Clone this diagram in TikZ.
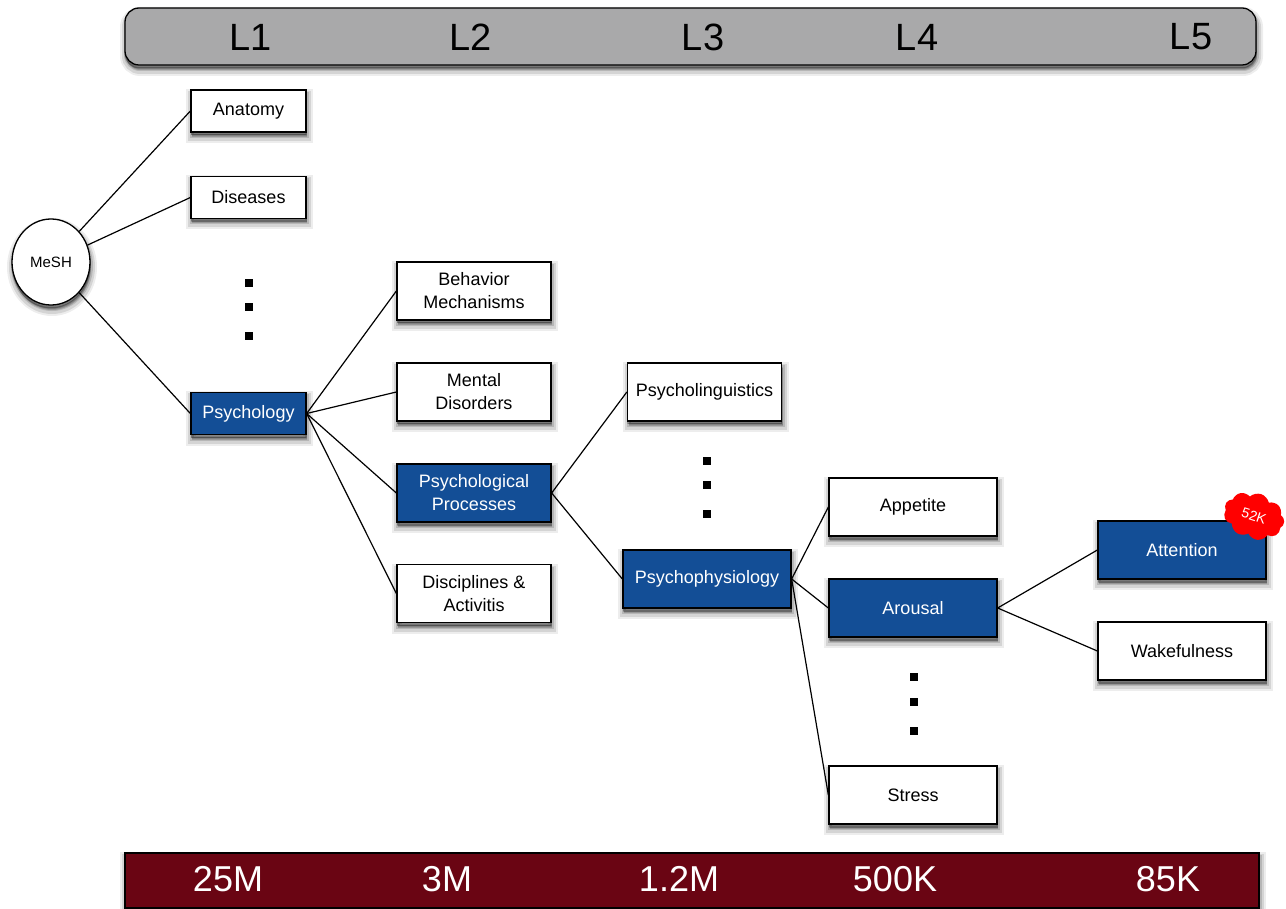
\documentclass[tikz,border=0pt]{standalone}
\usepackage{fontspec}
\setmainfont{Liberation Sans}
\usetikzlibrary{shapes.geometric,shapes.symbols}
\tikzset{
  softshadow/.style={
    preaction={draw=black,fill=black,draw opacity=.07,fill opacity=.07,line width=12pt,transform canvas={xshift=1pt,yshift=-5pt}},
    preaction={draw=black,fill=black,draw opacity=.10,fill opacity=.10,line width=8pt,transform canvas={xshift=1pt,yshift=-5pt}},
    preaction={draw=black,fill=black,draw opacity=.14,fill opacity=.14,line width=4pt,transform canvas={xshift=1pt,yshift=-4pt}},
    preaction={draw=black,fill=black,draw opacity=.2,fill opacity=.2,line width=1pt,transform canvas={xshift=0pt,yshift=-3pt}}},
  box/.style={rectangle,draw=black,line width=1.3pt,fill=white,text=black,softshadow,
    align=center,inner sep=0pt,font=\fontsize{18}{23}\selectfont},
  wbox/.style={box,minimum width=115pt,minimum height=42pt},
  mbox/.style={box,minimum width=154pt,minimum height=58pt},
  lbox/.style={box,minimum width=168pt,minimum height=58pt},
  sel/.style={fill=boxblue,text=white},
  conn/.style={draw=black,line width=1.2pt},
  dotm/.style={rectangle,fill=black,minimum size=8pt,inner sep=0pt},
  lvl/.style={text=black,inner sep=0pt,font=\fontsize{38}{40}\selectfont},
  cnt/.style={text=white,inner sep=0pt,font=\fontsize{36}{40}\selectfont},
}
\definecolor{boxblue}{HTML}{134E96}
\definecolor{bargray}{HTML}{A9A9AA}
\definecolor{barred}{HTML}{6A0513}
\begin{document}
\begin{tikzpicture}[x=1pt,y=-1pt]
\useasboundingbox (0,0) rectangle (1286,909);
\fill[white] (0,0) rectangle (1286,909);
% header and footer
\node[rectangle,rounded corners=14pt,draw=black,line width=1.3pt,fill=bargray,softshadow,minimum width=1131pt,minimum height=57pt,inner sep=0pt] (top) at (690.5,36.5) {};
\node[rectangle,draw=black,line width=1.3pt,fill=barred,softshadow,minimum width=1134pt,minimum height=55pt,inner sep=0pt] (bot) at (692,880.5) {};
\node[lvl] (l1) at (251,37) {L1};
\node[lvl] (l2) at (471,37) {L2};
\node[lvl] (l3) at (703,37) {L3};
\node[lvl] (l4) at (917,37) {L4};
\node[lvl] (l5) at (1191,37) {L5};
\node[cnt] (c1) at (228,879) {25M};
\node[cnt] (c2) at (447,879) {3M};
\node[cnt] (c3) at (679,879) {1.2M};
\node[cnt] (c4) at (895,879) {500K};
\node[cnt] (c5) at (1168,879) {85K};
% nodes
\node[ellipse,draw=black,line width=1.3pt,fill=white,softshadow,minimum width=78pt,minimum height=86pt,inner sep=0pt,font=\fontsize{15}{18}\selectfont] (mesh) at (51,262) {MeSH};
\node[wbox] (anatomy) at (248.5,111) {Anatomy};
\node[wbox] (diseases) at (248.5,197.5) {Diseases};
\node[wbox,sel] (psychology) at (248.5,413.5) {Psychology};
\node[mbox] (behavior) at (474,291) {Behavior\\Mechanisms};
\node[mbox] (mental) at (474,392) {Mental\\Disorders};
\node[mbox,sel] (processes) at (474,493) {Psychological\\Processes};
\node[mbox] (disciplines) at (474,593.5) {Disciplines \&\\Activitis};
\node[mbox] (linguistics) at (704.5,392) {Psycholinguistics};
\node[lbox,sel] (physiology) at (707,579) {Psychophysiology};
\node[lbox] (appetite) at (913,507) {Appetite};
\node[lbox,sel] (arousal) at (913,608) {Arousal};
\node[lbox] (stress) at (913,795) {Stress};
\node[lbox,sel] (attention) at (1182,550) {Attention};
\node[lbox] (wakefulness) at (1182,651) {Wakefulness};
% connectors
\draw[conn] (mesh) -- (anatomy.west);
\draw[conn] (mesh) -- (diseases.west);
\draw[conn] (mesh) -- (psychology.west);
\draw[conn] (psychology.east) -- (behavior.west);
\draw[conn] (psychology.east) -- (mental.west);
\draw[conn] (psychology.east) -- (processes.west);
\draw[conn] (psychology.east) -- (disciplines.west);
\draw[conn] (processes.east) -- (linguistics.west);
\draw[conn] (processes.east) -- (physiology.west);
\draw[conn] (physiology.east) -- (appetite.west);
\draw[conn] (physiology.east) -- (arousal.west);
\draw[conn] (physiology.east) -- (stress.west);
\draw[conn] (arousal.east) -- (attention.west);
\draw[conn] (arousal.east) -- (wakefulness.west);
% ellipsis markers
\node[dotm] (d1) at (249,283) {};
\node[dotm] (d2) at (249,307) {};
\node[dotm] (d3) at (249,336) {};
\node[dotm] (d4) at (707,461) {};
\node[dotm] (d5) at (707,485) {};
\node[dotm] (d6) at (707,514) {};
\node[dotm] (d7) at (914,677) {};
\node[dotm] (d8) at (914,702) {};
\node[dotm] (d9) at (914,731) {};
% badge
\node[cloud,cloud puffs=9,cloud puff arc=120,aspect=1.35,fill=red,text=white,rotate=-18,inner sep=0pt,minimum width=62pt,minimum height=46pt,font=\fontsize{14}{16}\selectfont] (badge) at (1254,516) {52K};
\end{tikzpicture}
\end{document}
